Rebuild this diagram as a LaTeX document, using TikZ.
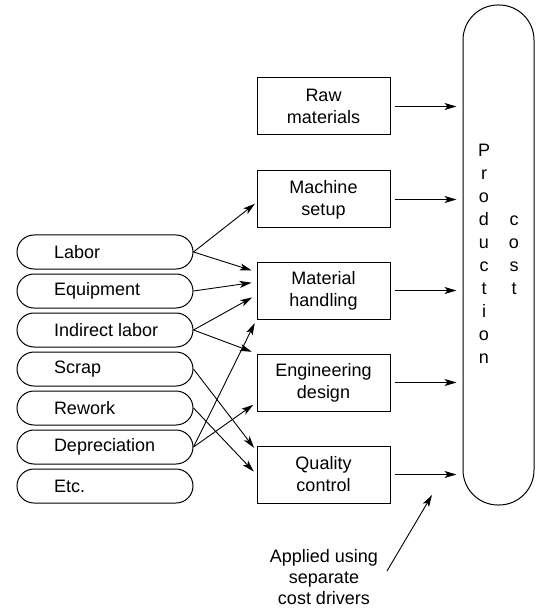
\documentclass[tikz,border=0pt]{standalone}
\usepackage{fontspec}
\setmainfont{Liberation Sans}
\usetikzlibrary{arrows.meta,calc}
\newcommand\srctxt[1]{\makebox[102pt][l]{#1}}
\begin{document}
\begin{tikzpicture}[x=1pt,y=-1pt,
  every node/.style={font=\fontsize{18}{22}\selectfont},
  src/.style={draw, rectangle, rounded corners=17pt, minimum width=176pt, minimum height=34pt, inner sep=0pt, line width=1pt},
  act/.style={draw, rectangle, minimum width=133pt, minimum height=57pt, align=center, inner sep=0pt, line width=1pt},
  pcbox/.style={draw, rectangle, rounded corners=35pt, minimum width=71pt, minimum height=500pt, inner sep=0pt, line width=1pt},
  arr/.style={-{Stealth[length=12pt,width=7pt,inset=3pt]}, line width=0.9pt},
]
\useasboundingbox (0,0) rectangle (537,609);

% sources
\node[src] (labor) at (105,252) {\srctxt{Labor}};
\node[src] (equip) at (105,291) {\srctxt{Equipment}};
\node[src] (indir) at (105,330) {\srctxt{Indirect labor}};
\node[src] (scrap) at (105,369) {\srctxt{Scrap}};
\node[src] (rework) at (105,408) {\srctxt{Rework}};
\node[src] (deprec) at (105,447) {\srctxt{Depreciation}};
\node[src] (etc) at (105,486) {\srctxt{Etc.}};

% activities
\node[act] (raw) at (323.5,106.5) {Raw\\materials};
\node[act] (mach) at (323.5,199.5) {Machine\\setup};
\node[act] (mat) at (323.5,290.5) {Material\\handling};
\node[act] (eng) at (323.5,382.5) {Engineering\\design};
\node[act] (qual) at (323.5,474.5) {Quality\\control};

% production cost
\node[pcbox, font=\fontsize{18}{23}\selectfont] (pc) at (498.5,255) {%
\begin{tabular}{@{}c@{\hspace{19pt}}c@{}}
P & \\ r & \\ o & \\ d & c\\ u & o\\ c & s\\ t & t\\ i & \\ o & \\ n &
\end{tabular}};

% activity -> production cost
\foreach \b in {raw,mach,mat,eng,qual}
  \draw[arr, shorten <=4pt, shorten >=6pt] (\b.east) -- (\b.east -| pc.west);

% sources -> activities
\draw[arr, shorten >=2pt] (labor.east) -- ($(mach.west)+(0,3)$);
\draw[arr, shorten >=5pt] (labor.east) -- ($(mat.west)+(0,-18.5)$);
\draw[arr, shorten >=5pt] (equip.east) -- ($(mat.west)+(0,-8.5)$);
\draw[arr, shorten >=5pt] (indir.east) -- ($(mat.west)+(0,4.5)$);
\draw[arr, shorten >=5pt] (indir.east) -- (eng.north west);
\draw[arr, shorten >=4pt] (scrap.east) -- ($(qual.west)+(0,-23.5)$);
\draw[arr, shorten >=4pt] (rework.east) -- (qual.west);
\draw[arr, shorten >=4pt] (deprec.east) -- (mat.south west);
\draw[arr, shorten >=4pt] (deprec.east) -- ($(eng.west)+(0,20)$);

% applied note
\node[align=center, inner sep=0pt, font=\fontsize{18}{21}\selectfont] (applied) at (324,577) {Applied using\\separate\\cost drivers};
\coordinate (drvtail) at (387,571);
\coordinate (drvhead) at (432,495);
\draw[arr] (drvtail) -- (drvhead);
\end{tikzpicture}
\end{document}
